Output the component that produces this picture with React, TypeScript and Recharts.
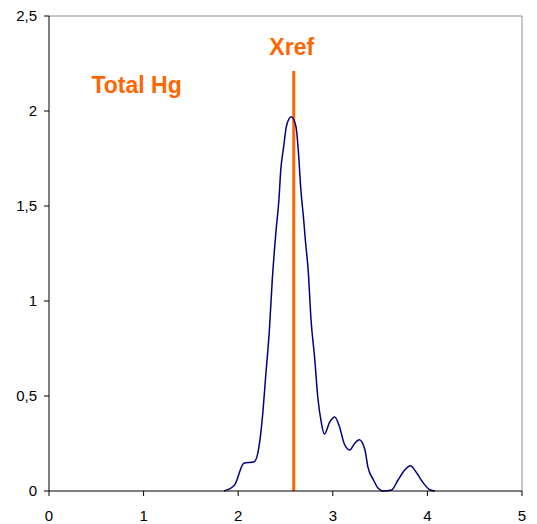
import React from "react";
import {
  LineChart,
  Line,
  XAxis,
  YAxis,
  ReferenceLine,
  ReferenceDot,
  Label,
} from "recharts";

// mass fraction values (x) and density (y)
const xValues = [
  1.85, 1.96, 2.06, 2.17, 2.22, 2.26, 2.29, 2.33, 2.36, 2.4, 2.43, 2.45, 2.48,
  2.51, 2.56, 2.61, 2.64, 2.66, 2.69, 2.71, 2.74, 2.77, 2.81, 2.84, 2.88, 2.91,
  2.97, 3.02, 3.07, 3.12, 3.18, 3.23, 3.28, 3.34, 3.37, 3.43, 3.48, 3.53, 3.62,
  3.69, 3.76, 3.82, 3.88, 3.96, 4.03, 4.08,
];
const densityValues = [
  0, 0.03, 0.146, 0.154, 0.233, 0.41, 0.6, 0.85, 1.11, 1.37, 1.53, 1.69, 1.81,
  1.92, 1.97, 1.92, 1.76, 1.6, 1.44, 1.32, 1.16, 0.9, 0.69, 0.5, 0.356, 0.3,
  0.365, 0.39, 0.34, 0.25, 0.216, 0.25, 0.27, 0.216, 0.128, 0.058, 0.014, 0,
  0.005, 0.058, 0.11, 0.133, 0.1, 0.04, 0.005, 0,
];
const xTicks = [0, 1, 2, 3, 4, 5];
const yTicks = [0, 0.5, 1, 1.5, 2, 2.5];
const xref = 2.587;
const xrefTop = 2.21;

const data = xValues.map((x, i) => ({ x, y: densityValues[i] }));

const orange = "#FF6600";
const fontFamily = "'Liberation Sans', Arial, sans-serif";

export default function App() {
  return (
    <div style={{ position: "absolute", left: 0, top: 0, fontFamily }}>
      <LineChart
        width={537}
        height={524}
        data={data}
        margin={{ top: 16, right: 15, left: 9, bottom: 3 }}
      >
        <XAxis
          dataKey="x"
          type="number"
          domain={[0, 5]}
          ticks={xTicks}
          tickSize={5}
          tickMargin={14}
          height={30}
          stroke="#000"
          tick={{ fill: "#000", fontSize: 15 }}
        />
        <YAxis
          type="number"
          domain={[0, 2.5]}
          ticks={yTicks}
          tickSize={5}
          tickMargin={7}
          width={40}
          stroke="#000"
          tick={{ fill: "#000", fontSize: 15 }}
          tickFormatter={(v: number) => String(v).replace(".", ",")}
        />
        <ReferenceLine y={2.5} stroke="#8c8c8c" />
        <ReferenceLine x={5} stroke="#8c8c8c" />
        <ReferenceLine
          segment={[
            { x: xref, y: 0 },
            { x: xref, y: xrefTop },
          ]}
          stroke={orange}
          strokeWidth={3}
        />
        <Line
          type="monotone"
          dataKey="y"
          stroke="#000080"
          strokeWidth={1.5}
          dot={false}
          isAnimationActive={false}
        />
        <ReferenceDot x={2.566} y={2.337} r={0} fill="none" stroke="none">
          <Label
            value="Xref"
            position="center"
            fill={orange}
            fontSize={23}
            fontWeight="bold"
          />
        </ReferenceDot>
        <ReferenceDot x={0.926} y={2.137} r={0} fill="none" stroke="none">
          <Label
            value="Total Hg"
            position="center"
            fill={orange}
            fontSize={23}
            fontWeight="bold"
          />
        </ReferenceDot>
      </LineChart>
    </div>
  );
}
